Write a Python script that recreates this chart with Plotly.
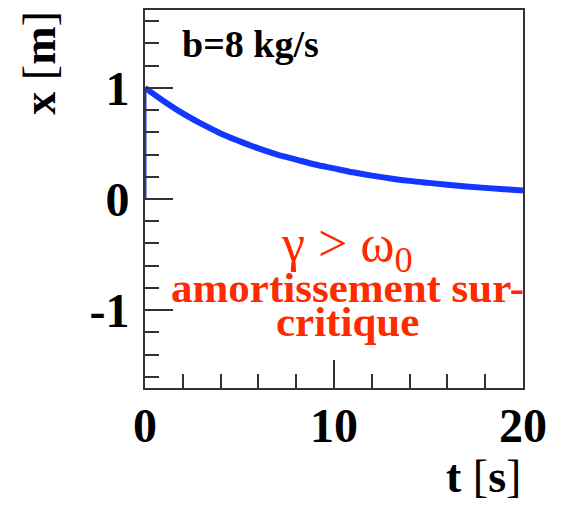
import plotly.graph_objects as go

# data
t_vals = [0, 1, 2, 3, 4, 5, 6, 7, 8, 9, 10, 11, 12, 13, 14, 15, 16, 17, 18, 19, 20]
x_vals = [1.0, 0.88, 0.77, 0.675, 0.59, 0.52, 0.455, 0.40, 0.355, 0.31, 0.275,
          0.24, 0.21, 0.185, 0.163, 0.145, 0.128, 0.113, 0.10, 0.088, 0.077]
x_tickvals = [0, 10, 20]
x_ticktext = ["0", "10", "20"]
y_tickvals = [-1, 0, 1]
y_ticktext = ["-1", "0", "1"]

BLUE = "#1437ff"
RED = "#ff2a00"
FONT = "Liberation Serif"

fig = go.Figure()
# vertical start segment at t=0
fig.add_trace(go.Scatter(x=[t_vals[0], t_vals[0]], y=[0, x_vals[0]], mode="lines",
                         line=dict(color=BLUE, width=3), hoverinfo="skip", showlegend=False))
fig.add_trace(go.Scatter(x=t_vals, y=x_vals, mode="lines",
                         line=dict(color=BLUE, width=6, shape="spline"), showlegend=False))

axis_common = dict(showgrid=False, zeroline=False, showline=True, linecolor="#333333",
                   linewidth=2, mirror=True, ticks="inside", tickcolor="#333333",
                   tickwidth=2, ticklen=28,
                   tickfont=dict(family=FONT, size=48, color="black", weight="bold"))

fig.update_xaxes(range=[0, 20], tickmode="array", tickvals=x_tickvals, ticktext=x_ticktext,
                 minor=dict(tickmode="linear", tick0=0, dtick=2, ticks="inside", ticklen=14,
                            tickcolor="#333333", tickwidth=2),
                 ticklabelstandoff=-6, **axis_common)
fig.update_yaxes(range=[-1.7, 1.7], tickmode="array", tickvals=y_tickvals, ticktext=y_ticktext,
                 minor=dict(tickmode="linear", tick0=0, dtick=0.2, ticks="inside", ticklen=14,
                            tickcolor="#333333", tickwidth=2),
                 ticklabelstandoff=4, **axis_common)

ann = []
ann.append(dict(x=5.6, y=1.39, xref="x", yref="y", text="<b>b=8 kg/s</b>", showarrow=False,
                font=dict(family=FONT, size=38, color="black"), xanchor="center", yanchor="middle"))
ann.append(dict(x=10.7, y=-0.44, xref="x", yref="y", text="γ > ω<sub>0</sub>", showarrow=False,
                font=dict(family=FONT, size=52, color=RED), xanchor="center", yanchor="middle"))
ann.append(dict(x=10.7, y=-0.80, xref="x", yref="y", text="<b>amortissement sur-</b>", showarrow=False,
                font=dict(family=FONT, size=43, color=RED), xanchor="center", yanchor="middle"))
ann.append(dict(x=10.7, y=-1.10, xref="x", yref="y", text="<b>critique</b>", showarrow=False,
                font=dict(family=FONT, size=43, color=RED), xanchor="center", yanchor="middle"))
# axis titles
ann.append(dict(x=1.0, y=-0.235, xref="paper", yref="paper", text="<b>t</b> [<b>s</b>]", showarrow=False,
                font=dict(family=FONT, size=46, color="black"), xanchor="right", yanchor="middle"))
ann.append(dict(x=-0.28, y=1.0, xref="paper", yref="paper", text="<b>x</b> [<b>m</b>]", showarrow=False,
                textangle=-90, font=dict(family=FONT, size=46, color="black"),
                xanchor="center", yanchor="top"))
fig.update_layout(annotations=ann)

fig.update_layout(width=561, height=506, margin=dict(l=145, r=38, t=8, b=118),
                  paper_bgcolor="white", plot_bgcolor="white", showlegend=False)

fig.write_html("out.html", config={"displayModeBar": False},
               post_script="document.body.style.margin='0';")
